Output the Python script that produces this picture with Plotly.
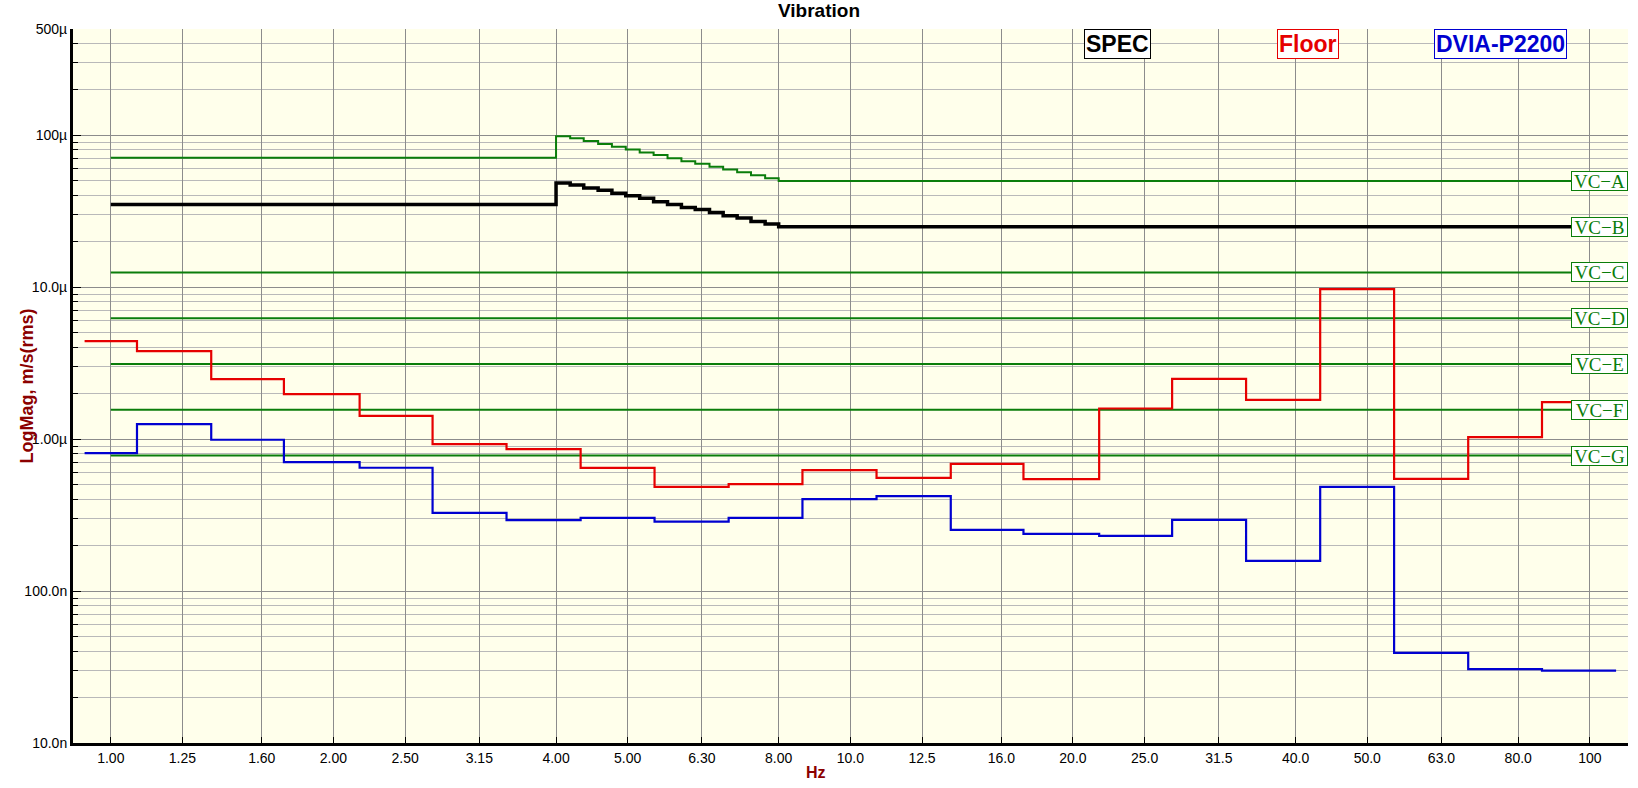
"""Vibration chart: floor and DVIA-P2200 1/3-octave spectra against VC criteria"""
import math
import plotly.graph_objects as go

# 1/3-octave band centres (Hz) and the nominal labels used on the x axis
band_hz = [1.0, 1.26, 1.58, 2.0, 2.51, 3.16, 3.98, 5.01, 6.31, 7.94, 10.0,
           12.6, 15.8, 20.0, 25.1, 31.6, 39.8, 50.1, 63.1, 79.4, 100.0]
tick_hz = [1, 1.25, 1.6, 2, 2.5, 3.15, 4, 5, 6.3, 8, 10, 12.5, 16, 20, 25,
           31.5, 40, 50, 63, 80, 100]
tick_labels = ['1.00', '1.25', '1.60', '2.00', '2.50', '3.15', '4.00', '5.00',
               '6.30', '8.00', '10.0', '12.5', '16.0', '20.0', '25.0', '31.5',
               '40.0', '50.0', '63.0', '80.0', '100']

# measured band levels, um/s rms
floor_um = [4.41, 3.79, 2.48, 1.98, 1.42, 0.927, 0.859, 0.647, 0.485, 0.506,
            0.625, 0.556, 0.687, 0.546, 1.59, 2.49, 1.81, 9.71, 0.548, 1.03, 1.75]
dvia_um = [0.809, 1.256, 0.99, 0.706, 0.648, 0.327, 0.293, 0.303, 0.286, 0.303,
           0.403, 0.421, 0.253, 0.238, 0.231, 0.294, 0.158, 0.485, 0.0392,
           0.0306, 0.0299]

# criterion curves (um/s rms), stepped through the 4-8 Hz region
spec_hz = [1.0, 4.0, 4.18, 4.36, 4.56, 4.76, 4.97, 5.19, 5.42, 5.66, 5.91,
           6.17, 6.45, 6.73, 7.03, 7.34, 7.67, 8.0, 110.0]
vc_a_um = [71, 98.5, 95.5, 91.5, 87.5, 84, 80.5, 77, 74, 70.5, 67.5, 65, 62,
           59.5, 57, 54.5, 52, 50, 50]
spec_um = [35, 48.5, 47, 45, 43.5, 41.5, 40, 38.5, 36.5, 35, 33.5, 32.5, 31,
           29.5, 28.5, 27, 26, 25, 25]
flat_vc_um = [12.5, 6.25, 3.12, 1.56, 0.78]

vc_names = ['VC\u2212A', 'VC\u2212B', 'VC\u2212C', 'VC\u2212D', 'VC\u2212E',
            'VC\u2212F', 'VC\u2212G']
vc_label_um = [50, 25, 12.5, 6.25, 3.12, 1.56, 0.78]

y_tick_um = [0.01, 0.1, 1, 10, 100, 500]
y_tick_labels = ['10.0n', '100.0n', '1.00\u00b5', '10.0\u00b5', '100\u00b5', '500\u00b5']

GREEN = '#0a7d0a'
DARK_RED = '#8b0000'
FONT = 'Liberation Sans'


def band_steps(vals, spread=1.085):
    """x/y for an 'hv' step line with one flat run per band"""
    x = [band_hz[0] / spread] + [f * spread for f in band_hz]
    y = list(vals) + [vals[-1]]
    return x, y


fig = go.Figure()

# VC criteria
fig.add_trace(go.Scatter(x=spec_hz, y=vc_a_um, mode='lines', line_shape='hv',
                         line={'color': GREEN, 'width': 2}, hoverinfo='skip'))
for lvl in flat_vc_um:
    fig.add_trace(go.Scatter(x=[spec_hz[0], spec_hz[-1]], y=[lvl, lvl], mode='lines',
                             line={'color': GREEN, 'width': 2}, hoverinfo='skip'))
fig.add_trace(go.Scatter(x=spec_hz, y=spec_um, mode='lines', line_shape='hv',
                         line={'color': 'black', 'width': 3.5}, name='SPEC'))

fx, fy = band_steps(floor_um)
fig.add_trace(go.Scatter(x=fx, y=fy, mode='lines', line_shape='hv',
                         line={'color': '#e60000', 'width': 2.2}, name='Floor'))
dx, dy = band_steps(dvia_um)
fig.add_trace(go.Scatter(x=dx, y=dy, mode='lines', line_shape='hv',
                         line={'color': '#0000d0', 'width': 2.2}, name='DVIA-P2200'))

# minor gridlines for each decade (2..9 x 10^n)
minor_vals = [m * 10 ** e for e in range(-2, 3) for m in range(2, 10) if m * 10 ** e < 500]

annotations = []
for name, lvl in zip(vc_names, vc_label_um):
    annotations.append(dict(
        x=1, xref='paper', xanchor='right', y=math.log10(lvl), yref='y', yanchor='middle',
        text=name, showarrow=False, bgcolor='white', bordercolor=GREEN, borderwidth=1,
        borderpad=0, width=55, height=18,
        font={'family': 'Liberation Serif', 'size': 19, 'color': GREEN}))

for text, color, xpos in [('SPEC', 'black', 0.6714), ('Floor', '#e60000', 0.794),
                          ('DVIA-P2200', '#0000d0', 0.9183)]:
    annotations.append(dict(
        x=xpos, xref='paper', xanchor='center', y=0.979, yref='paper', yanchor='middle',
        text='<b>' + text + '</b>', showarrow=False, bgcolor='white', bordercolor=color,
        borderwidth=1, borderpad=1,
        font={'family': FONT, 'size': 23, 'color': color}))

annotations.append(dict(x=0.478, xref='paper', y=-0.041, yref='paper', yanchor='middle',
                        text='<b>Hz</b>', showarrow=False,
                        font={'family': FONT, 'size': 16, 'color': DARK_RED}))
annotations.append(dict(x=-0.037, xref='paper', y=0.5, yref='paper', textangle=-90,
                        text='<b>LogMag, m/s(rms)</b>', showarrow=False,
                        font={'family': FONT, 'size': 18, 'color': DARK_RED}))

fig.update_layout(
    width=1638, height=788,
    margin={'l': 73, 'r': 10, 't': 29, 'b': 45},
    paper_bgcolor='white', plot_bgcolor='#ffffeb',
    showlegend=False,
    title={'text': '<b>Vibration</b>', 'x': 0.5, 'xanchor': 'center',
           'y': 0.987, 'yanchor': 'middle',
           'font': {'family': FONT, 'size': 19, 'color': 'black'}},
    font={'family': FONT, 'size': 14, 'color': 'black'},
    annotations=annotations,
)
fig.update_xaxes(type='log', range=[math.log10(0.889), math.log10(112.6)],
                 tickvals=tick_hz, ticktext=tick_labels, showgrid=True,
                 gridcolor='#8c8c8c', gridwidth=1, zeroline=False,
                 showline=True, linecolor='black', linewidth=3,
                 ticks='inside', ticklen=6, tickcolor='black',
                 tickfont={'size': 14})
fig.update_yaxes(type='log', range=[math.log10(0.01), math.log10(500)],
                 tickvals=y_tick_um, ticktext=y_tick_labels, showgrid=True,
                 gridcolor='#8c8c8c', gridwidth=1, zeroline=False,
                 showline=True, linecolor='black', linewidth=3,
                 ticks='inside', ticklen=8, tickcolor='black',
                 tickfont={'size': 14},
                 minor={'tickvals': minor_vals, 'ticks': 'inside', 'ticklen': 5,
                        'tickcolor': 'black', 'showgrid': True,
                        'gridcolor': '#b9b9b9', 'gridwidth': 1})

# the page's default body margin would push the figure 8px down and right
fig.write_html("out.html", config={'displayModeBar': False},
               post_script="document.body.style.margin = '0px';")
